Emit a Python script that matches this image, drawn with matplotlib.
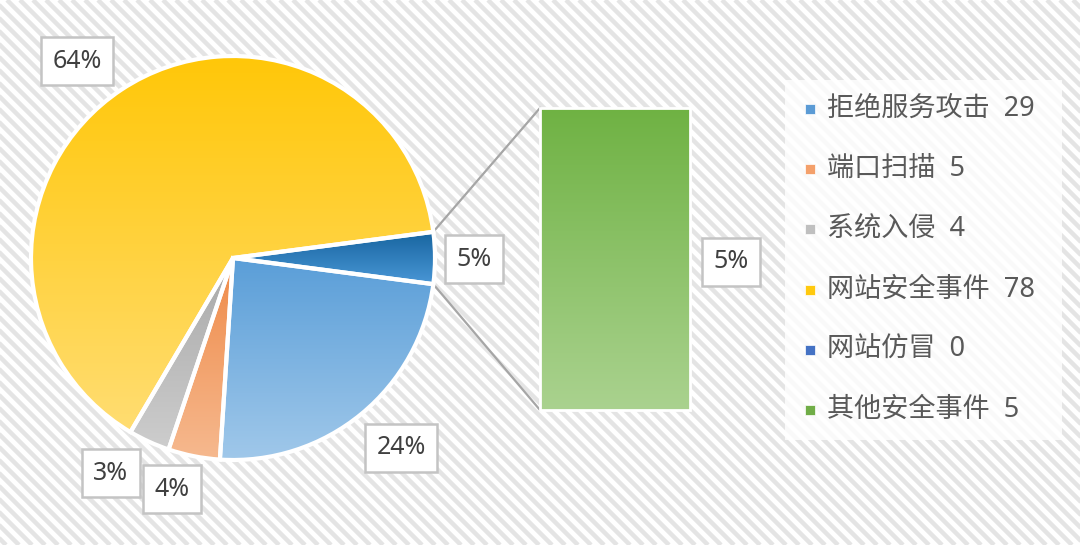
import numpy as np
import matplotlib.pyplot as plt
from matplotlib.patches import Rectangle
from matplotlib.colors import LinearSegmentedColormap

plt.rcParams['font.family'] = ['Noto Sans', 'Noto Sans CJK SC', 'DejaVu Sans']

# data
categories = ['拒绝服务攻击', '端口扫描', '系统入侵', '网站安全事件', '网站仿冒', '其他安全事件']
counts = [29, 5, 4, 78, 0, 5]
# pie: the "other" group (网站仿冒 + 其他安全事件) first, then the rest clockwise
pie_labels = ['5%', '24%', '4%', '3%', '64%']
bar_label = '5%'

legend_colors = ['#5B9BD5', '#F4A06B', '#BFBFBF', '#FFC90E', '#4472C4', '#70AD47']
# (top, bottom) gradient colours for the pie wedges and the bar
pie_grad = [('#16649F', '#4A97D6'), ('#5A9ED8', '#A0C8EA'), ('#EF8A48', '#F6B98F'),
            ('#A8A8A8', '#CDCDCD'), ('#FFC708', '#FFDD72')]
bar_grad = ('#6FB243', '#AAD28F')

W, H = 1080, 545
fig = plt.figure(figsize=(W / 100, H / 100), dpi=100)

# striped background
bg = fig.add_axes([0, 0, 1, 1], zorder=-1)
bg.set_xlim(0, W)
bg.set_ylim(H, 0)
bg.axis('off')
for c in range(-H - 20, W + 20, 13):
    bg.plot([c, c + H], [0, H], color='#E4E4E4', lw=3.2, solid_capstyle='butt')

ax = fig.add_axes([0, 0, 1, 1])


def fill_gradient(patch, top, bottom, extent):
    cmap = LinearSegmentedColormap.from_list('g', [bottom, top])
    grad = np.linspace(0, 1, 256).reshape(-1, 1)
    im = ax.imshow(grad, cmap=cmap, extent=extent, origin='lower',
                   aspect='auto', zorder=2, interpolation='bilinear')
    im.set_clip_path(patch)


pie_values = [counts[4] + counts[5], counts[0], counts[1], counts[2], counts[3]]
total = sum(pie_values)
start = 360 * pie_values[0] / total / 2
cx, cy, r = 233, H - 258, 202

wedges, _ = ax.pie(pie_values, startangle=start, counterclock=False,
                   center=(cx, cy), radius=r,
                   wedgeprops=dict(edgecolor='white', linewidth=3))
for w, (top, bot) in zip(wedges, pie_grad):
    th = np.radians(np.linspace(w.theta1, w.theta2, 100))
    xs = np.concatenate([[cx], cx + r * np.cos(th)])
    ys = np.concatenate([[cy], cy + r * np.sin(th)])
    fill_gradient(w, top, bot, (xs.min(), xs.max(), ys.min(), ys.max()))
    w.set_facecolor('none')
    w.set_zorder(3)

# bar of the "other" group
bx, bw, by0, bh = 615, 150, H - 410, 302
other = [counts[4], counts[5]]
bottom = by0
for v in other:
    h = bh * v / sum(other)
    if h <= 0:
        continue
    bar = ax.bar(bx, h, bw, bottom=bottom, color='none', edgecolor='white',
                 lw=2, zorder=3)[0]
    fill_gradient(bar, bar_grad[0], bar_grad[1], (bx - bw / 2, bx + bw / 2, bottom, bottom + h))
    bottom += h

# connector lines
a = np.radians(start)
ax.plot([cx + r * np.cos(a), bx - bw / 2], [cy + r * np.sin(a), by0 + bh],
        color='#A6A6A6', lw=1.6, zorder=1)
ax.plot([cx + r * np.cos(a), bx - bw / 2], [cy - r * np.sin(a), by0],
        color='#A6A6A6', lw=1.6, zorder=1)

# data labels
label_pos = [(474, 259), (401, 448), (172, 489), (111, 473), (77, 61)]
box = dict(boxstyle='square,pad=0.45', fc='white', ec='#C4C4C4', lw=1.8)
for s, (x, y) in zip(pie_labels, label_pos):
    ax.text(x, H - y, s, ha='center', va='center', fontsize=18,
            color='#404040', bbox=box, zorder=5)
ax.text(731, H - 262, bar_label, ha='center', va='center', fontsize=18,
        color='#404040', bbox=box, zorder=5)

# legend
ax.add_patch(Rectangle((785, H - 440), 277, 360, fc='white', alpha=0.8,
                       ec='none', zorder=1))
for i, (name, n, col) in enumerate(zip(categories, counts, legend_colors)):
    y = H - (109 + i * 60.2)
    ax.plot(810, y, marker='s', ms=7, color=col, mec='white', mew=0.5, zorder=4)
    ax.text(827, y, f'{name}  {n}', ha='left', va='center', fontsize=19.5,
            color='#595959', zorder=4)

ax.set_xlim(0, W)
ax.set_ylim(0, H)
ax.axis('off')

fig.savefig('out.png', dpi=100)
